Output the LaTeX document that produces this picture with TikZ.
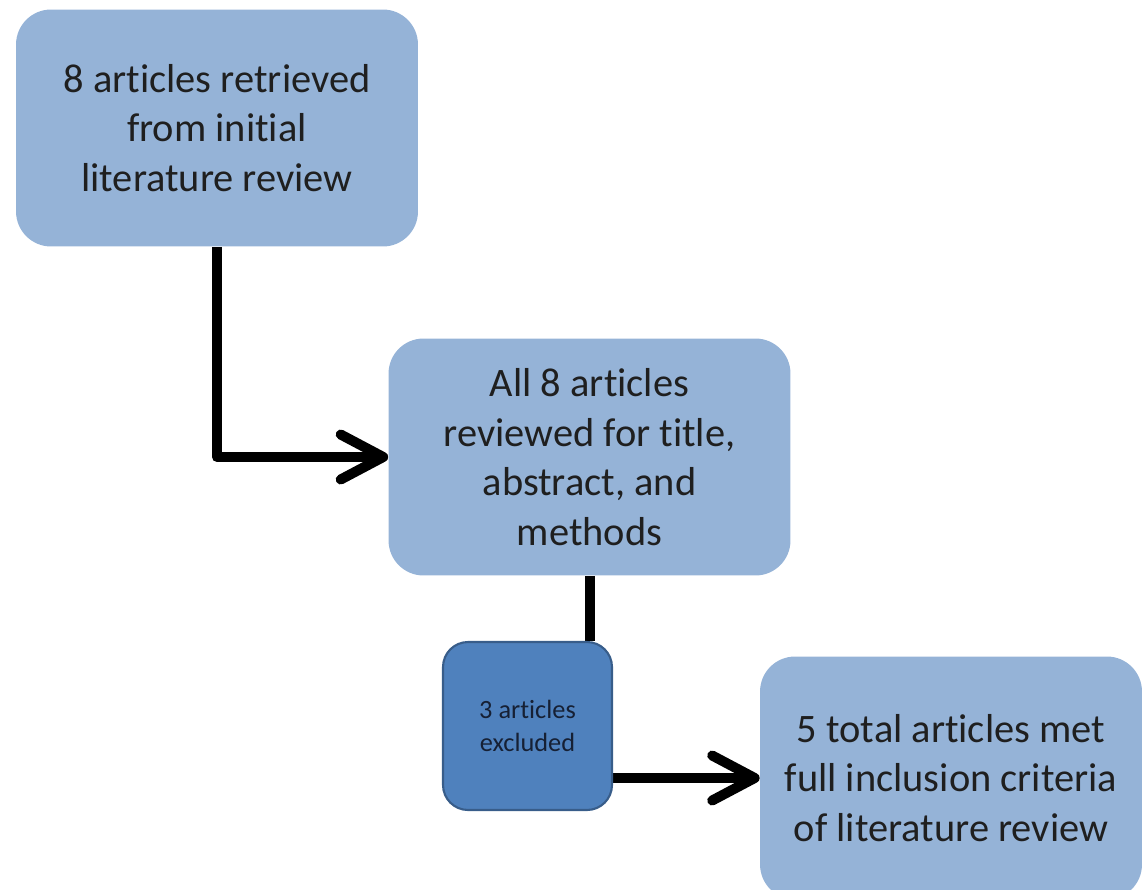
\documentclass[tikz,border=0pt]{standalone}
\usepackage{fontspec}
\setmainfont[RawFeature=-liga]{Carlito}
\usetikzlibrary{arrows.meta,positioning,calc,backgrounds}
\definecolor{boxblue}{RGB}{149,179,215}
\definecolor{darkblue}{RGB}{79,129,189}
\definecolor{edgeblue}{RGB}{56,93,138}
\definecolor{inkblue}{RGB}{22,32,52}
\tikzset{stage/.style={rectangle,rounded corners=7mm,fill=boxblue,minimum width=8.04cm,minimum height=4.74cm,inner sep=0pt,align=center,text=black!88,font=\fontsize{23}{28.3}\selectfont},excluded/.style={rectangle,rounded corners=5mm,draw=edgeblue,line width=1.2pt,fill=darkblue,minimum width=3.38cm,minimum height=3.36cm,inner sep=0pt,align=center,text=inkblue,font=\fontsize{15}{18.3}\selectfont},link/.style={line width=2mm,line join=round},flow/.style={link,-{Straight Barb[length=8.5mm,width=9mm,round]}},every picture/.style={line cap=round}}
\begin{document}
\begin{tikzpicture}[x=0.02cm,y=-0.02cm]
\clip (0,0) rectangle (1145,889);
\node[stage] (retrieved) at (217,128) {8 articles retrieved\\from initial\\literature review};
\node[stage] (reviewed) at (589.5,457) {All 8 articles\\reviewed for title,\\abstract, and\\methods};
\node[excluded] (excluded) at (527.5,726) {3 articles\\excluded};
\node[stage,minimum width=7.64cm,minimum height=4.86cm] (met) at (951,778) {5 total articles met\\full inclusion criteria\\of literature review};
\begin{scope}[on background layer]
\draw[flow] (retrieved.south) |- (reviewed.west);
\draw[link] (reviewed.south) -- (reviewed.south |- excluded.north);
\draw[flow] (excluded.east |- met.west) -- (met.west);
\end{scope}
\end{tikzpicture}
\end{document}
